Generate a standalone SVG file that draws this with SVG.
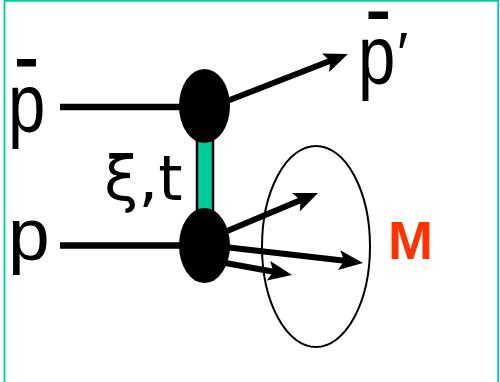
<svg xmlns="http://www.w3.org/2000/svg" width="500" height="382" viewBox="0 0 500 382">
<style>
.lbl{font-family:"Liberation Sans",Arial,sans-serif;fill:#000}
.ln{stroke:#000;stroke-width:6.5;fill:none}
.arr{stroke:#000;stroke-width:6;fill:none;marker-end:url(#ah)}
.blob{fill:#000}
</style>
<defs>
<marker id="ah" markerUnits="userSpaceOnUse" markerWidth="24" markerHeight="20" refX="8" refY="10" orient="auto" viewBox="0 0 24 20">
<path d="M0,0 L24,10 L0,20 L5,10 z" fill="#000"/>
</marker>
</defs>
<rect x="4.5" y="0.8" width="493.7" height="400" fill="#fff" stroke="#00CC99" stroke-width="1.8"/>
<g id="connectors">
<line class="ln" x1="60" y1="107" x2="185" y2="107"/>
<line class="ln" x1="60" y1="245.5" x2="185" y2="245.5"/>
<rect id="exchange" x="197" y="138" width="16" height="76" fill="#00CC99" stroke="#000" stroke-width="2.5"/>
<line class="arr" x1="222" y1="103" x2="333" y2="59.8"/>
<line class="arr" x1="220" y1="234" x2="303.3" y2="199.1"/>
<line class="arr" x1="220" y1="246.5" x2="347.1" y2="261.1"/>
<line class="arr" x1="220" y1="262" x2="276.3" y2="272.2"/>
</g>
<g id="vertex-top"><ellipse class="blob" cx="204.5" cy="106" rx="25.5" ry="37"/></g>
<g id="vertex-bottom"><ellipse class="blob" cx="204.5" cy="245.5" rx="25.5" ry="37.5"/></g>
<g id="system-M"><ellipse cx="316" cy="246.5" rx="54" ry="100.5" fill="none" stroke="#000" stroke-width="2"/></g>
<g id="pbar-in">
<rect x="17" y="59" width="19" height="7.5" fill="#000"/>
<text class="lbl" font-size="84" transform="translate(8,132) scale(0.8,1)">p</text>
</g>
<g id="p-in"><text class="lbl" font-size="75" x="8" y="260">p</text></g>
<g id="pbar-out">
<rect x="368.5" y="11.5" width="19.5" height="7.5" fill="#000"/>
<text class="lbl" font-size="84" transform="translate(358,84) scale(0.8,1)">p</text>
<text class="lbl" font-size="60" x="397" y="74">′</text>
</g>
<g id="xi-t"><text style="font-family:'DejaVu Sans',sans-serif" font-size="62" x="104" y="200">ξ,t</text></g>
<g id="M-label"><text font-family="Liberation Sans,Arial,sans-serif" font-weight="bold" font-size="54" fill="#FF3300" x="388" y="259">M</text></g>
</svg>
